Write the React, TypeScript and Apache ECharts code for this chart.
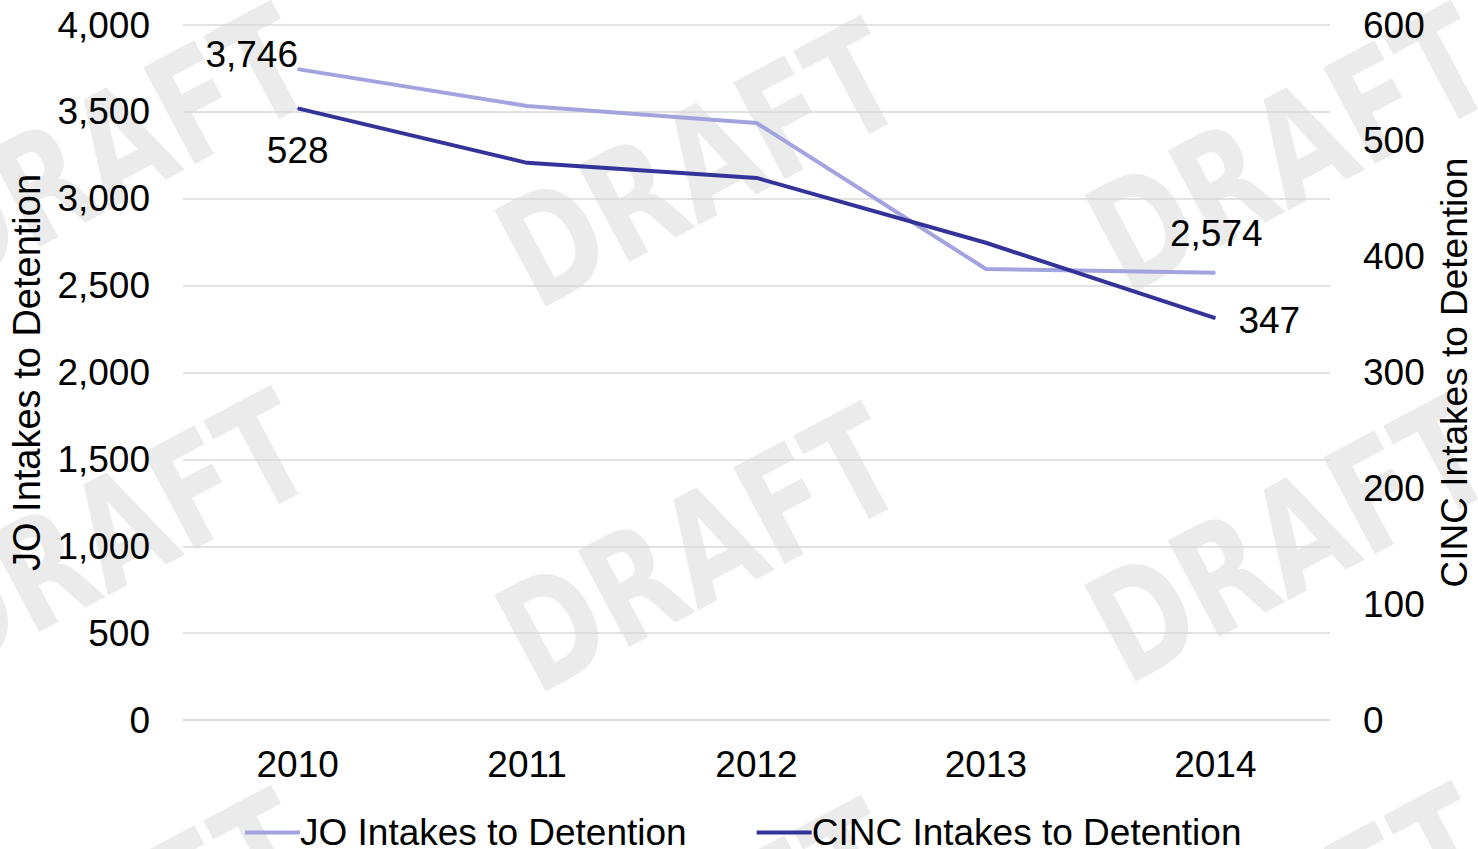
import React, { useEffect, useRef } from "react";
import * as echarts from "echarts";

const years = ["2010", "2011", "2012", "2013", "2014"];
const joIntakes = [3746, 3534, 3436, 2596, 2574];
const cincIntakes = [528, 481, 468, 412, 347];

const leftTicks = { min: 0, max: 4000, interval: 500 };
const rightTicks = { min: 0, max: 600, interval: 100 };

const FONT = "'Liberation Sans', Arial, sans-serif";

// Diagonal "DRAFT" stamps tiled over the plot
const stampCenters: [number, number][] = [
  [110, 150], [700, 165], [1290, 150],
  [110, 535], [700, 550], [1290, 540],
  [110, 935], [700, 945], [1290, 930],
];

function labelledData(values: number[], first: number[], last: number[]) {
  return values.map((v, i) => {
    if (i === 0 || i === values.length - 1) {
      const off = i === 0 ? first : last;
      return {
        value: v,
        label: {
          show: true,
          position: "inside",
          offset: off,
          formatter: (p: any) => Number(p.value).toLocaleString("en-US"),
          color: "#000",
          fontSize: 37,
          fontFamily: FONT,
        },
      };
    }
    return { value: v };
  });
}

export default function App() {
  const ref = useRef<HTMLDivElement>(null);

  useEffect(() => {
    if (!ref.current) return;
    const chart = echarts.init(ref.current, undefined, { renderer: "svg" });

    const stamps = stampCenters.map(([x, y]) => ({
      type: "text",
      x,
      y,
      rotation: 0.49,
      scaleX: 0.76,
      z: -10,
      silent: true,
      style: {
        text: "DRAFT",
        fill: "#ebebeb",
        font: "bold 150px 'DejaVu Sans', sans-serif",
        align: "center",
        verticalAlign: "middle",
      },
    }));

    chart.setOption({
      animation: false,
      backgroundColor: "#ffffff",
      graphic: stamps,
      grid: {
        left: 183,
        right: 148,
        top: 25,
        bottom: 129,
        containLabel: false,
        outerBoundsMode: "none",
      },
      legend: {
        top: 809,
        left: 240,
        itemWidth: 55,
        itemHeight: 4,
        itemGap: 70,
        icon: "rect",
        textStyle: { fontSize: 37, fontFamily: FONT, color: "#000", padding: [0, 0, 0, -5] },
        data: ["JO Intakes to Detention", "CINC Intakes to Detention"],
      },
      xAxis: {
        type: "category",
        data: years,
        boundaryGap: true,
        axisLine: { show: true, lineStyle: { color: "#d9d9d9", width: 1.5 } },
        axisTick: { show: false },
        axisLabel: { color: "#000", fontSize: 37, fontFamily: FONT, margin: 26 },
      },
      yAxis: [
        {
          type: "value",
          ...leftTicks,
          name: "JO Intakes to Detention",
          nameLocation: "middle",
          nameGap: 137,
          nameTextStyle: { color: "#000", fontSize: 38, fontFamily: FONT },
          axisLine: { show: false },
          axisTick: { show: false },
          axisLabel: {
            color: "#000",
            fontSize: 37,
            fontFamily: FONT,
            margin: 33,
            formatter: (v: number) => v.toLocaleString("en-US"),
          },
          splitLine: { show: true, lineStyle: { color: "#d9d9d9", width: 1.5 } },
        },
        {
          type: "value",
          ...rightTicks,
          name: "CINC Intakes to Detention",
          nameLocation: "middle",
          nameGap: 106,
          nameRotate: 90,
          nameTextStyle: { color: "#000", fontSize: 37, fontFamily: FONT },
          axisLine: { show: false },
          axisTick: { show: false },
          axisLabel: { color: "#000", fontSize: 37, fontFamily: FONT, margin: 33 },
          splitLine: { show: false },
        },
      ],
      series: [
        {
          name: "JO Intakes to Detention",
          type: "line",
          yAxisIndex: 0,
          data: labelledData(joIntakes, [-46, -15], [1, -39]),
          symbol: "circle",
          symbolSize: 1,
          showSymbol: true,
          itemStyle: { color: "#a3a3e0" },
          lineStyle: { color: "#a3a3e0", width: 4 },
          z: 3,
        },
        {
          name: "CINC Intakes to Detention",
          type: "line",
          yAxisIndex: 1,
          data: labelledData(cincIntakes, [0, 42], [54, 2]),
          symbol: "circle",
          symbolSize: 1,
          showSymbol: true,
          itemStyle: { color: "#333399" },
          lineStyle: { color: "#333399", width: 4 },
          z: 4,
        },
      ],
    });

    return () => chart.dispose();
  }, []);

  return (
    <div
      ref={ref}
      style={{ position: "fixed", left: 0, top: 0, width: 1478, height: 849 }}
    />
  );
}
